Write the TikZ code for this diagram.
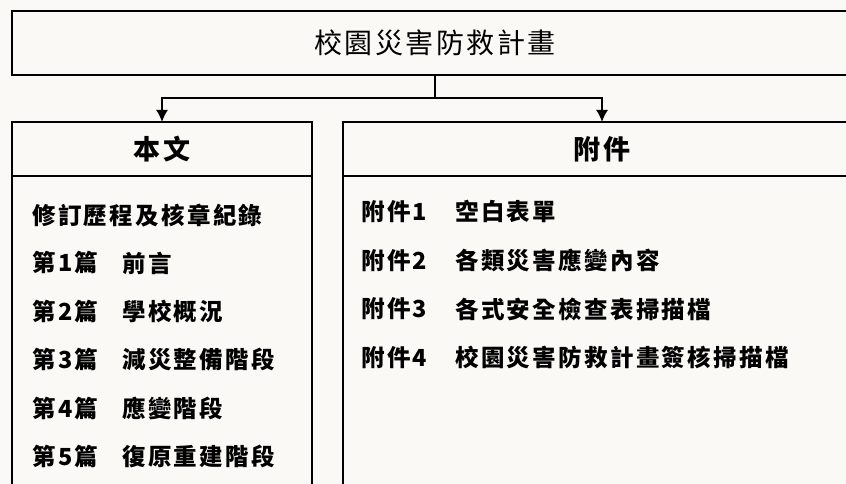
\documentclass[tikz,border=0pt]{standalone}
\usepackage{fontspec}
\setmainfont{Noto Sans CJK TC}
\usetikzlibrary{arrows.meta,positioning}
\tikzset{>={Latex[length=12pt,width=12pt]}}
\definecolor{paper}{RGB}{250,249,246}
\tikzset{
  frame/.style={draw,line width=2pt,inner sep=0pt,outer sep=0pt},
  titletext/.style={font=\fontsize{28pt}{28pt}\selectfont\addfontfeatures{LetterSpace=9}},
  headtext/.style={font=\fontsize{27pt}{27pt}\selectfont\bfseries\addfontfeatures{LetterSpace=10}},
  itemtext/.style={anchor=west,inner sep=0pt,font=\fontsize{23.5pt}{23.5pt}\selectfont\bfseries\addfontfeatures{LetterSpace=10}},
  link/.style={line width=1.6pt},
}

\begin{document}
\begin{tikzpicture}[x=1pt,y=-1pt]
  \fill[paper] (0,0) rectangle (846,484);
  \useasboundingbox (0,0) rectangle (846,484);
  \clip (0,0) rectangle (846,484);
  % top box
  \node[frame,titletext,minimum width=846pt,minimum height=64pt] (plan) at (435,43) {校園災害防救計畫};
  % two columns
  \node[frame,headtext,minimum width=300pt,minimum height=54pt] (bodyhead) at (162,149) {本文};
  \node[frame,minimum width=300pt,minimum height=330pt,anchor=north] (bodylist) at (bodyhead.south) {};
  \node[frame,headtext,minimum width=518pt,minimum height=54pt] (annexhead) at (602,149) {附件};
  \node[frame,minimum width=518pt,minimum height=330pt,anchor=north] (annexlist) at (annexhead.south) {};
  %
  \coordinate (split) at (435,98);
  \draw[link] (plan.south) -- (split);
  \draw[link,->] (split) -| (bodyhead.north);
  \draw[link,->] (split) -| (annexhead.north);
  %
  \node[itemtext] (record) at (32,216) {修訂歷程及核章紀錄};
  \foreach \n/\txt in {1/前言,2/學校概況,3/減災整備階段,4/應變階段,5/復原重建階段} {%
    \node[itemtext] (part\n) at (32,{214.6+48.4*\n}) {第\n{}篇};
    \node[itemtext] (part\n txt) at (122,{214.6+48.4*\n}) {\txt};
  }
  \foreach \n/\txt in {1/空白表單,2/各類災害應變內容,3/各式安全檢查表掃描檔,4/校園災害防救計畫簽核掃描檔} {%
    \node[itemtext] (annex\n) at (361,{163+48.7*\n}) {附件\n};
    \node[itemtext] (annex\n txt) at (455,{163+48.7*\n}) {\txt};
  }
\end{tikzpicture}
\end{document}
